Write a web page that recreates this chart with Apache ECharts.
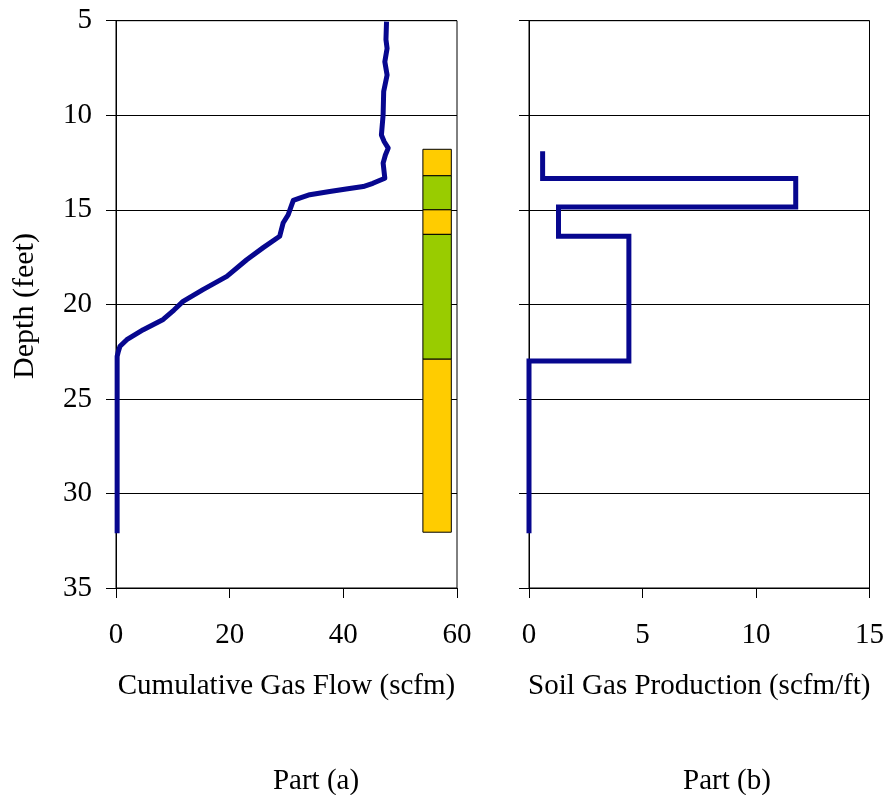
<!DOCTYPE html>
<html>
<head>
<meta charset="utf-8">
<script src="https://cdn.jsdelivr.net/npm/echarts@6/dist/echarts.min.js"></script>
<style>
  html, body { margin: 0; padding: 0; background: #ffffff; }
  #chart { width: 887px; height: 795px; }
</style>
</head>
<body>
<div id="chart"></div>
<script>
// ---- Data ----
// Part (a): cumulative gas flow (scfm) vs depth (feet)
const cumDepth = [5.05, 6.0, 6.46, 7.17, 7.87, 8.75, 9.98, 11.04, 11.4, 11.74, 12.1, 12.53, 13.33, 13.6, 13.77, 13.9, 14.03, 14.2, 14.38, 14.5, 14.56, 15.0, 15.26, 15.7, 16.4, 17.0, 17.64, 18.52, 19.22, 19.84, 20.3, 20.8, 21.34, 21.87, 22.22, 22.5, 22.75, 32.1];
const cumFlow  = [47.6, 47.5, 47.7, 47.3, 47.7, 47.1, 47.0, 46.7, 47.2, 47.9, 47.4, 47.0, 47.3, 45.2, 43.5, 40.5, 37.6, 34.1, 32.3, 31.2, 30.9, 30.6, 30.3, 29.4, 28.8, 25.9, 23.0, 19.5, 15.3, 11.8, 10.2, 8.3, 4.8, 1.9, 0.7, 0.4, 0.2, 0.2];

// Soil layers shown beside Part (a)
const layerTop    = [11.8, 13.2, 15.0, 16.3, 22.9];
const layerBottom = [13.2, 15.0, 16.3, 22.9, 32.05];
const layerType   = ['A', 'B', 'A', 'B', 'A'];

// Part (b): soil gas production (scfm/ft) per depth interval
const intervalTop    = [11.9, 13.35, 14.85, 16.4, 23.0];
const intervalBottom = [13.35, 14.85, 16.4, 23.0, 32.1];
const production     = [0.6, 11.75, 1.3, 4.4, 0.0];

// Axis ticks
const depthTicks = [5, 10, 15, 20, 25, 30, 35];
const flowTicks = [0, 20, 40, 60];
const prodTicks = [0, 5, 10, 15];

// ---- Build chart ----
const serif = '"Liberation Serif", "Times New Roman", serif';
const lineColor = '#07078f';
const layerColors = { A: '#FFCC00', B: '#99CC00' };

const cumData = cumDepth.map((d, i) => [cumFlow[i], d]);
const stepData = [];
production.forEach((v, i) => {
  stepData.push([v, intervalTop[i]]);
  stepData.push([v, intervalBottom[i]]);
});
const layerData = layerTop.map((t, i) => [t, layerBottom[i], layerType[i]]);

function yAxisCfg(gridIndex, showLabels) {
  return {
    type: 'value', gridIndex: gridIndex, inverse: true,
    min: depthTicks[0], max: depthTicks[depthTicks.length - 1], interval: 5,
    axisLine: { show: true, lineStyle: { color: '#000', width: 1 } },
    axisTick: { show: true, inside: false, length: 10, lineStyle: { color: '#000' } },
    axisLabel: { show: showLabels, fontFamily: serif, fontSize: 29, color: '#000', margin: 24 },
    splitLine: { show: true, lineStyle: { color: '#000', width: 1 } }
  };
}
function xAxisCfg(gridIndex, ticks, name) {
  return {
    type: 'value', gridIndex: gridIndex,
    min: ticks[0], max: ticks[ticks.length - 1], interval: ticks[1] - ticks[0],
    name: name, nameLocation: 'middle', nameGap: 84,
    nameTextStyle: { fontFamily: serif, fontSize: 29, color: '#000' },
    axisLine: { show: true, onZero: false, lineStyle: { color: '#000', width: 1 } },
    axisTick: { show: true, inside: false, length: 10, lineStyle: { color: '#000' } },
    axisLabel: { fontFamily: serif, fontSize: 29, color: '#000', margin: 33 },
    splitLine: { show: false }
  };
}

const chart = echarts.init(document.getElementById('chart'), null, { renderer: 'canvas' });
chart.setOption({
  backgroundColor: '#ffffff',
  animation: false,
  grid: [
    { left: 116, right: 430, top: 20.7, bottom: 207, show: true, borderColor: '#000', borderWidth: 1, backgroundColor: 'transparent' },
    { left: 529, right: 14, top: 20.7, bottom: 207, show: true, borderColor: '#000', borderWidth: 1, backgroundColor: 'transparent' }
  ],
  xAxis: [
    xAxisCfg(0, flowTicks, 'Cumulative Gas Flow (scfm)'),
    xAxisCfg(1, prodTicks, 'Soil Gas Production (scfm/ft)')
  ],
  yAxis: [yAxisCfg(0, true), yAxisCfg(1, false)],
  graphic: [
    { type: 'text', x: 25, y: 306, rotation: Math.PI / 2,
      style: { text: 'Depth (feet)', font: '30px ' + serif, fill: '#000', align: 'center', verticalAlign: 'middle' } },
    { type: 'text', x: 316, y: 781,
      style: { text: 'Part (a)', font: '29px ' + serif, fill: '#000', align: 'center', verticalAlign: 'middle' } },
    { type: 'text', x: 727, y: 781,
      style: { text: 'Part (b)', font: '29px ' + serif, fill: '#000', align: 'center', verticalAlign: 'middle' } }
  ],
  series: [
    {
      type: 'custom', xAxisIndex: 0, yAxisIndex: 0, z: 3,
      data: layerData,
      renderItem: function (params, api) {
        const p0 = api.coord([54, api.value(0)]);
        const p1 = api.coord([59, api.value(1)]);
        const kind = layerType[params.dataIndex];
        return {
          type: 'rect',
          shape: { x: p0[0], y: p0[1], width: p1[0] - p0[0], height: p1[1] - p0[1] },
          style: { fill: layerColors[kind], stroke: '#000', lineWidth: 1 }
        };
      }
    },
    {
      type: 'line', xAxisIndex: 0, yAxisIndex: 0, z: 4,
      data: cumData, showSymbol: false, symbol: 'none', smooth: false,
      lineStyle: { color: lineColor, width: 5, join: 'round' }
    },
    {
      type: 'line', xAxisIndex: 1, yAxisIndex: 1, z: 4,
      data: stepData, showSymbol: false, symbol: 'none',
      lineStyle: { color: lineColor, width: 5, join: 'miter', cap: 'butt' }
    }
  ]
});
</script>
</body>
</html>
